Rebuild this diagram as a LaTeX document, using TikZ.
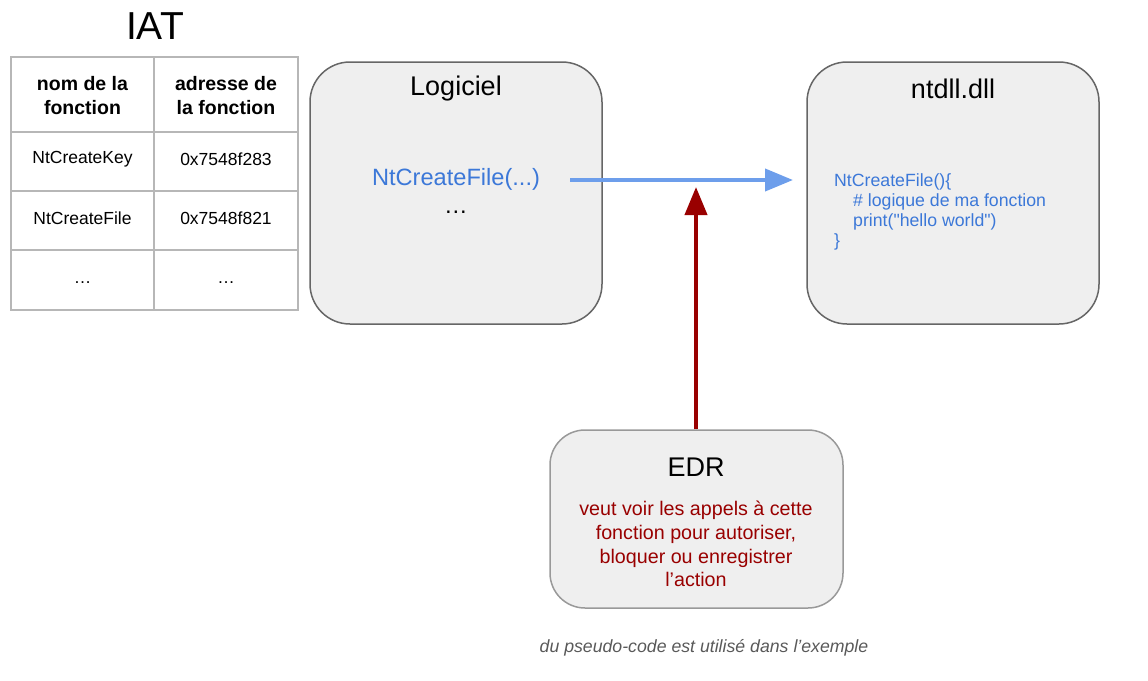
\documentclass[tikz,border=0pt]{standalone}
\usepackage{fontspec}
\setmainfont{Liberation Sans}
\usetikzlibrary{arrows.meta}
\definecolor{boxfill}{HTML}{EFEFEF}
\definecolor{boxline}{HTML}{666666}
\definecolor{edrline}{HTML}{999999}
\definecolor{tabline}{HTML}{B7B7B7}
\definecolor{codeblue}{HTML}{3C78D8}
\definecolor{arrowblue}{HTML}{6D9EEB}
\definecolor{darkred}{HTML}{990000}
\definecolor{notegray}{HTML}{595959}
\tikzset{
  box/.style={draw=boxline, fill=boxfill, line width=1.5pt, rounded corners=40pt, inner sep=0pt},
  title/.style={inner sep=0pt, font=\fontsize{27}{30}\selectfont},
  cell/.style={inner sep=0pt, font=\fontsize{17.5}{21}\selectfont},
  head/.style={inner sep=0pt, align=center, font=\bfseries\fontsize{19.5}{24}\selectfont},
  tabrule/.style={draw=tabline, line width=1.5pt},
  flow/.style={line width=4pt, -{Triangle[length=28pt,width=22pt]}}
}
\begin{document}
\begin{tikzpicture}[x=1pt,y=-1pt]
\useasboundingbox (0,0) rectangle (1148,680);
% IAT table
\node[inner sep=0pt, font=\fontsize{39}{42}\selectfont] (iat) at (155,26) {IAT};
\draw[tabrule] (11,57) rectangle (298,310);
\draw[tabrule] (154,57) -- (154,310);
\draw[tabrule] (11,132) -- (298,132);
\draw[tabrule] (11,191) -- (298,191);
\draw[tabrule] (11,250) -- (298,250);
\node[head] (h1) at (82.5,96) {nom de la\\fonction};
\node[head] (h2) at (226,96) {adresse de\\la fonction};
\node[cell] (c11) at (82.5,159) {NtCreateKey};
\node[cell] (c12) at (226,159) {0x7548f283};
\node[cell] (c21) at (82.5,218) {NtCreateFile};
\node[cell] (c22) at (226,218) {0x7548f821};
\node[cell] (c31) at (82.5,283) {…};
\node[cell] (c32) at (226,283) {…};
% Logiciel box
\node[box, minimum width=292pt, minimum height=262pt] (log) at (456,193) {};
\node[title] (logt) at (456,89) {Logiciel};
\node[inner sep=0pt, text=codeblue, font=\fontsize{23.6}{27}\selectfont] (call) at (456,179.5) {NtCreateFile(...)};
\node[inner sep=0pt, font=\fontsize{23.6}{27}\selectfont] (dots) at (456,212) {…};
% ntdll box
\node[box, minimum width=292pt, minimum height=262pt] (dll) at (953,193) {};
\node[title] (dllt) at (953,89) {ntdll.dll};
\node[inner sep=0pt, anchor=west, align=left, text=codeblue, font=\fontsize{17.7}{20.2}\selectfont] (code) at (834,212)
  {NtCreateFile()\{\\\hspace*{19pt}\# logique de ma fonction\\\hspace*{19pt}print(\textquotedbl hello world\textquotedbl)\\\}};
% EDR box
\node[box, draw=edrline, rounded corners=35pt, minimum width=293pt, minimum height=178pt] (edr) at (696.5,519) {};
\node[title] (edrt) at (696,467) {EDR};
\node[inner sep=0pt, align=center, text=darkred, font=\fontsize{19.7}{23.7}\selectfont] (edrtxt) at (696,544)
  {veut voir les appels à cette\\fonction pour autoriser,\\bloquer ou enregistrer\\l’action};
% footer
\node[inner sep=0pt, text=notegray, font=\itshape\fontsize{17.7}{21}\selectfont] (note) at (704,648) {du pseudo-code est utilisé dans l’exemple};
% arrows
\coordinate (bstart) at (570,180);
\coordinate (bend) at (793,180);
\draw[flow, draw=arrowblue, fill=arrowblue] (bstart) -- (bend);
\coordinate (rtip) at (696,187);
\draw[flow, draw=darkred, fill=darkred] (edr.north -| rtip) -- (rtip);
\end{tikzpicture}
\end{document}
